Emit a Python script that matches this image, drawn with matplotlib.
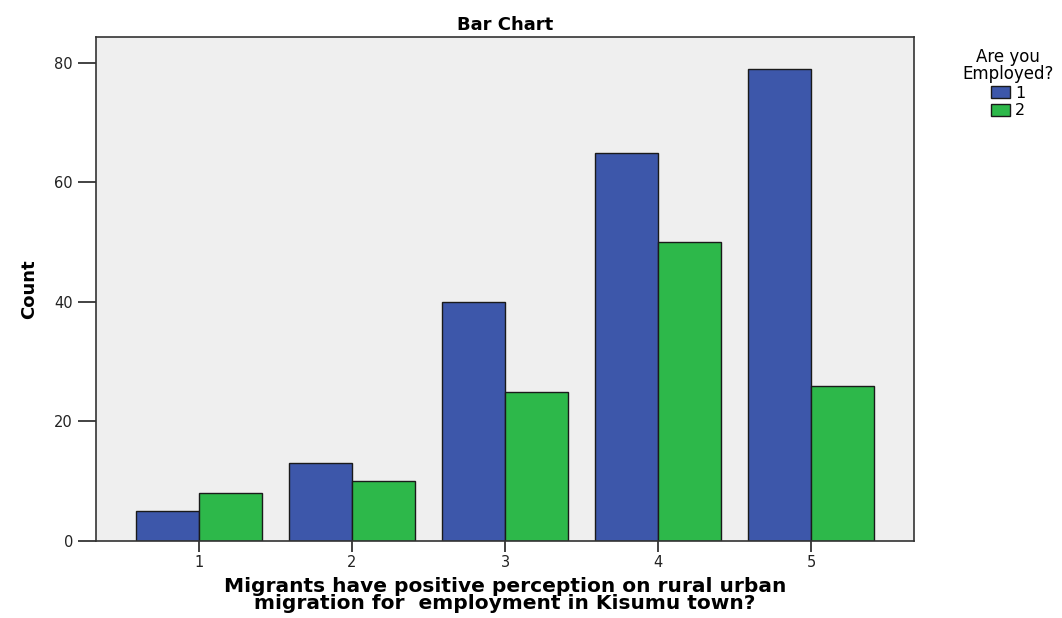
import numpy as np
import matplotlib.pyplot as plt
from matplotlib.patches import Patch

categories = ['1', '2', '3', '4', '5']
employed_1 = [5, 13, 40, 65, 79]
employed_2 = [8, 10, 25, 50, 26]
series_names = ['1', '2']
colors = ['#3d57aa', '#2db84a']

fig = plt.figure(figsize=(10.62, 6.18), dpi=100)
ax = fig.add_axes([96/1062, 1-541/618, (914-96)/1062, (541-37)/618])
ax.set_facecolor('#efefef')

x = np.arange(len(categories))
w = 0.41
ax.bar(x - w/2, employed_1, w, color=colors[0], edgecolor='#1a1a1a', linewidth=1.0)
ax.bar(x + w/2, employed_2, w, color=colors[1], edgecolor='#1a1a1a', linewidth=1.0)

ax.set_xlim(-0.673, 4.673)
ax.set_ylim(0, 84.35)
ax.set_yticks([0, 20, 40, 60, 80])
ax.set_xticks(x)
ax.set_xticklabels(categories)
ax.tick_params(axis='both', direction='out', length=13, width=1.2, labelsize=10.5, colors='#222222')
ax.tick_params(axis='x', length=8, pad=2)
for s in ax.spines.values():
    s.set_color('#333333')
    s.set_linewidth(1.2)

ax.set_title('Bar Chart', fontsize=13, fontweight='bold', pad=5)
ax.set_ylabel('Count', fontsize=13, fontweight='bold', labelpad=12)
ax.set_xlabel('Migrants have positive perception on rural urban\nmigration for  employment in Kisumu town?',
              fontsize=14.5, fontweight='bold', labelpad=5, linespacing=0.9)

handles = [Patch(facecolor=c, edgecolor='#1a1a1a') for c in colors]
leg = fig.legend(handles, series_names, title='Are you\nEmployed?', loc='upper center',
                 bbox_to_anchor=(1008/1062, 1-37/618), frameon=False, fontsize=11.5,
                 title_fontsize=12, handlelength=1.2, handleheight=0.8, handletextpad=0.3,
                 labelspacing=0.15, borderpad=0.2)
leg.get_title().set_multialignment('center')
leg.get_title().set_linespacing(0.95)
leg._legend_box.align = 'center'

fig.savefig('out.png', dpi=100)
